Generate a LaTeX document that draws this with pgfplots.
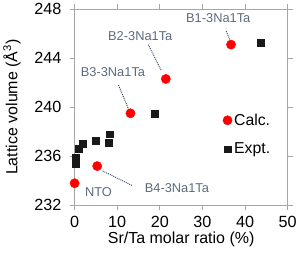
\documentclass[border=0pt]{standalone}
\usepackage{fontspec}
\setmainfont{Liberation Sans}
\usepackage{pgfplots}
\pgfplotsset{compat=1.18}
\definecolor{annot}{HTML}{5A6B80}
\definecolor{dline}{HTML}{3C4F66}
\definecolor{spine}{HTML}{A6A6A6}
\begin{document}
\begin{tikzpicture}
\begin{axis}[
  at={(0,0)}, anchor=south west,
  scale only axis,
  width=216pt, height=199pt,
  xmin=0, xmax=50, ymin=232, ymax=248,
  xtick={0,10,20,30,40,50},
  ytick={232,236,240,244,248},
  tick align=outside,
  major tick length=5pt,
  axis line style={spine, line width=0.8pt},
  tick style={spine, line width=0.8pt},
  every tick label/.append style={font=\fontsize{16.4}{18}\selectfont, black},
  /pgf/number format/assume math mode=true,
  xticklabel style={yshift=-2pt},
  yticklabel style={xshift=-5pt},
  xlabel={Sr/Ta molar ratio (\%)},
  ylabel={Lattice volume (Å\textsuperscript{3})},
  label style={font=\fontsize{16.2}{18}\selectfont},
  xlabel style={yshift=2pt},
  ylabel style={yshift=7pt},
  legend style={at={(0.695,0.477)}, anchor=north west, draw=none, fill=none,
    font=\fontsize{16}{18}\selectfont, row sep=12.5pt, inner sep=0pt},
  legend cell align=left,
  clip=false,
]
\addplot[only marks, mark=*, mark size=4.7pt, color=red, mark options={fill=red, draw=red}]
  coordinates {(0,233.8) (5.3,235.2) (13.1,239.5) (21.4,242.3) (36.7,245.1)};
\addlegendentry{Calc.}
\addplot[only marks, mark=square*, mark size=3.5pt, color=black!90, mark options={fill=black!90}]
  coordinates {(0.2,235.9) (0.2,235.4) (0.9,236.65) (1.9,237.05) (4.9,237.25) (7.9,237.1) (8.3,237.8) (18.7,239.5) (43.6,245.25)};
\addlegendentry{Expt.}
\draw[dline, densely dotted, line width=1pt] (axis cs:35.6,246.2) -- (axis cs:36.4,245.5);
\draw[dline, densely dotted, line width=1pt] (axis cs:17.3,245.1) -- (axis cs:20.3,243.0);
\draw[dline, densely dotted, line width=1pt] (axis cs:10.3,241.8) -- (axis cs:12.7,239.8);
\draw[dline, densely dotted, line width=1pt] (axis cs:6.6,234.8) -- (axis cs:13.6,233.6);
\node[annot, font=\fontsize{13}{15}\selectfont] at (axis cs:33.7,247.25) {B1-3Na1Ta};
\node[annot, font=\fontsize{13}{15}\selectfont] at (axis cs:15.4,245.8) {B2-3Na1Ta};
\node[annot, font=\fontsize{13}{15}\selectfont] at (axis cs:9.0,242.9) {B3-3Na1Ta};
\node[annot, font=\fontsize{13}{15}\selectfont] at (axis cs:5.6,233.1) {NTO};
\node[annot, font=\fontsize{13}{15}\selectfont] at (axis cs:24.0,233.4) {B4-3Na1Ta};
\end{axis}
\path (-74pt,-51pt) rectangle (226pt,207pt);
\end{tikzpicture}
\end{document}
